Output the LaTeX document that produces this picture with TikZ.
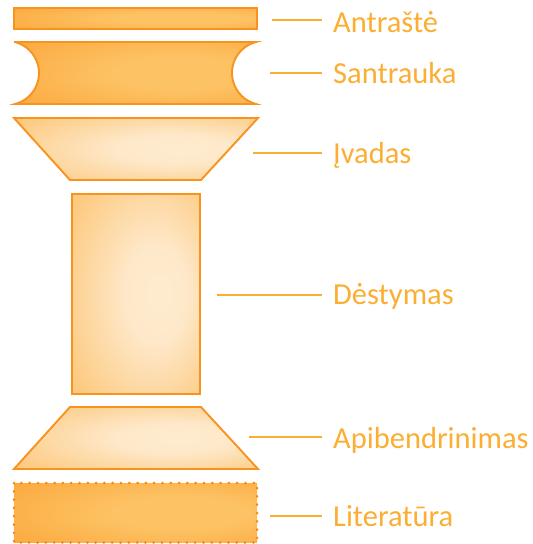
\documentclass[tikz,border=0pt]{standalone}
\usepackage{fontspec}
\setmainfont{Carlito}
\definecolor{edge}{HTML}{F7931E}
\definecolor{dots}{HTML}{F68B12}
\definecolor{txt}{HTML}{FBAE32}
\pgfdeclareradialshading{warm}{\pgfpoint{12bp}{0bp}}{%
  rgb(0bp)=(0.992,0.76,0.39); rgb(14bp)=(0.992,0.76,0.39);
  rgb(40bp)=(0.985,0.66,0.24); rgb(60bp)=(0.975,0.58,0.13)}
\pgfdeclareradialshading{soft}{\pgfpoint{10bp}{0bp}}{%
  rgb(0bp)=(0.996,0.92,0.81); rgb(12bp)=(0.996,0.91,0.79);
  rgb(34bp)=(0.99,0.80,0.52); rgb(58bp)=(0.98,0.69,0.30)}
\tikzset{
  part/.style={draw=edge, line width=1.9pt, line join=miter},
  solidpart/.style={part, shading=warm},
  palepart/.style={part, shading=soft},
  guide/.style={draw=txt, line width=1.4pt},
  lab/.style={anchor=base west, inner sep=0pt, text=txt, font=\fontsize{30.5}{33}\selectfont}
}
\begin{document}
\begin{tikzpicture}[x=1pt,y=-1pt]
\useasboundingbox (0,0) rectangle (533,544);
% shapes
\path[solidpart] (14,8) rectangle (257,29);
\path[solidpart] (15,42) -- (256,42)
  arc[start angle=255.5, end angle=104.5, radius=32] -- (15,104)
  arc[start angle=75.5, end angle=-75.5, radius=32] -- cycle;
\path[palepart] (14,118) -- (258,118) -- (201,180) -- (70,180) -- cycle;
\path[palepart] (72,194) rectangle (200,394);
\path[palepart] (70,407) -- (201,407) -- (258,469) -- (14,469) -- cycle;
\path[shading=warm] (14,483) rectangle (257,542.5);
\draw[dots, dash pattern=on 0pt off 8.3pt, line cap=round, line width=3pt] (14,483) rectangle (257,542.5);
% labels
\node[lab] (a) at (333,32.5) {Antraštė};
\node[lab] (s) at (333,83) {Santrauka};
\node[lab] (i) at (333,163) {Įvadas};
\node[lab] (d) at (333,304) {Dėstymas};
\node[lab] (p) at (333,448) {Apibendrinimas};
\node[lab] (l) at (333,526) {Literatūra};
\coordinate (a0) at (272,20);
\coordinate (s0) at (270,73);
\coordinate (i0) at (253,153);
\coordinate (d0) at (217,295);
\coordinate (p0) at (249,437);
\coordinate (l0) at (270,516);
\foreach \n in {a,s,i,d,p,l}
  \draw[guide] (\n0) -- ([xshift=-11pt]\n0 -| \n.west);
\end{tikzpicture}
\end{document}
